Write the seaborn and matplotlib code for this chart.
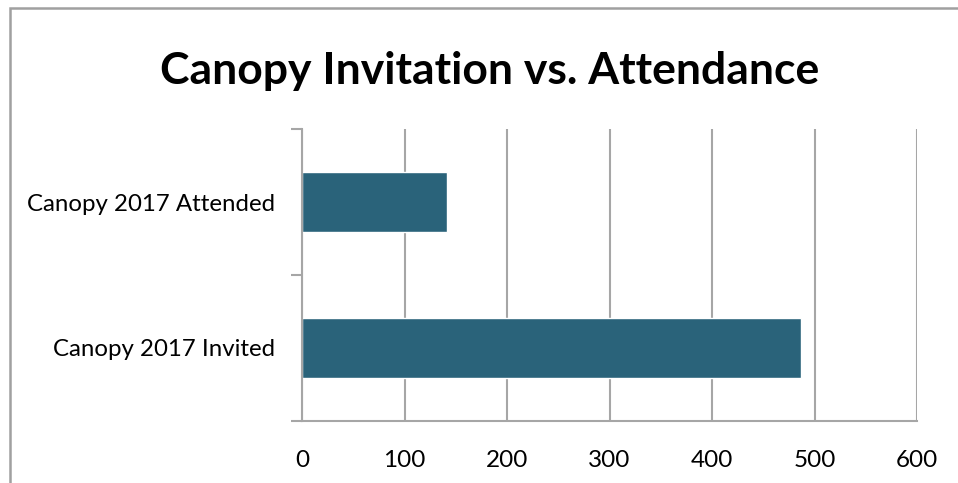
import matplotlib
matplotlib.use("Agg")
import matplotlib.pyplot as plt
import matplotlib.patches as mpatches
from matplotlib.ticker import FixedLocator
import seaborn as sns
import pandas as pd

categories = ["Canopy 2017 Attended", "Canopy 2017 Invited"]
counts = [141, 487]
x_ticks = [0, 100, 200, 300, 400, 500, 600]

title = "Canopy Invitation vs. Attendance"
bar_color = "#2A637A"
grid_color = "#A6A6A6"

sns.set_theme(style="white")
plt.rcParams["font.family"] = ["Lato", "DejaVu Sans"]

df = pd.DataFrame({"category": categories, "count": counts})

fig = plt.figure(figsize=(9.58, 4.83), dpi=100)
ax = fig.add_axes([302 / 958, 1 - 421 / 483, (917 - 302) / 958, (421 - 129) / 483])

sns.barplot(data=df, x="count", y="category", order=categories, orient="h",
            color=bar_color, saturation=1, width=0.405, ax=ax, zorder=3)

ax.set_xlim(0, 600)
ax.set_ylim(1.5, -0.5)
ax.set_xticks(x_ticks)
ax.set_xticklabels([str(t) for t in x_ticks], fontsize=17.5, color="black")
ax.tick_params(axis="x", length=8, width=1.5, color=grid_color, pad=13)

# category labels centred on bars; tick marks on category boundaries
ax.set_yticks(range(len(categories)))
ax.set_yticklabels(categories, fontsize=17.3, color="black")
ax.tick_params(axis="y", which="major", length=0, pad=19)
ax.yaxis.set_minor_locator(FixedLocator([-0.5, 0.5, 1.5]))
ax.tick_params(axis="y", which="minor", length=8, width=1.5, color=grid_color, left=True)

ax.set_xlabel("")
ax.set_ylabel("")
ax.grid(axis="x", color=grid_color, linewidth=1.5, zorder=0)
ax.set_axisbelow(True)
for side in ["top", "right"]:
    ax.spines[side].set_visible(False)
for side in ["left", "bottom"]:
    ax.spines[side].set_color(grid_color)
    ax.spines[side].set_linewidth(1.5)
    ax.spines[side].set_zorder(4)

fig.text(490 / 958, 1 - 71 / 483, title, ha="center", va="center",
         fontsize=32, fontweight="bold", color="black")

# chart frame
frame = mpatches.Rectangle((9.5 / 958, -0.1), 1.2, 1 - 8.5 / 483 + 0.1,
                           transform=fig.transFigure, fill=False,
                           edgecolor="#A0A0A0", linewidth=1.8)
fig.patches.append(frame)

fig.savefig("out.png", dpi=100)
